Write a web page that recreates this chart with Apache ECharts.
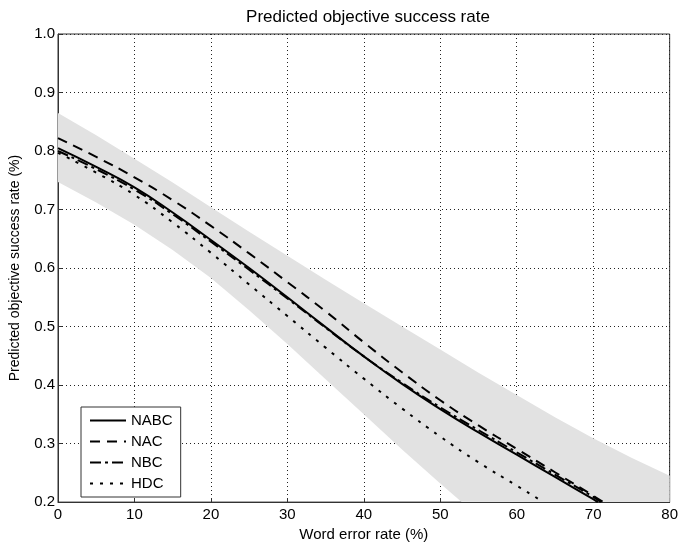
<!DOCTYPE html>
<html>
<head>
<meta charset="utf-8">
<script src="https://cdn.jsdelivr.net/npm/echarts@6/dist/echarts.min.js"></script>
<style>html,body{margin:0;padding:0;background:#fff}#c{width:681px;height:547px}</style>
</head>
<body>
<div id="c"></div>
<script>
const seriesNames = ['NABC', 'NAC', 'NBC', 'HDC'];
const nabcX = [0, 5, 10, 15, 20, 25, 30, 35, 40, 45, 50, 55, 60, 65, 70, 70.6];
const nabcY = [0.805, 0.773, 0.738, 0.695, 0.648, 0.6, 0.55, 0.499, 0.449, 0.402, 0.359, 0.319, 0.281, 0.243, 0.205, 0.2];
const nacX = [0, 5, 10, 15, 20, 25, 30, 35, 40, 45, 50, 55, 60, 65, 70, 71.3];
const nacY = [0.822, 0.79, 0.755, 0.716, 0.672, 0.625, 0.576, 0.526, 0.473, 0.422, 0.374, 0.331, 0.291, 0.251, 0.211, 0.2];
const nbcX = [0, 5, 10, 15, 20, 25, 30, 35, 40, 45, 50, 55, 60, 65, 70, 71];
const nbcY = [0.80, 0.769, 0.734, 0.692, 0.645, 0.597, 0.548, 0.498, 0.449, 0.404, 0.362, 0.323, 0.285, 0.247, 0.209, 0.2];
const hdcX = [0, 5, 10, 15, 20, 25, 30, 35, 40, 45, 50, 55, 60, 63, 63.4];
const hdcY = [0.797, 0.763, 0.725, 0.678, 0.626, 0.572, 0.518, 0.464, 0.411, 0.36, 0.312, 0.268, 0.228, 0.204, 0.2];
const bandUpperX = [0, 5, 10, 15, 20, 25, 30, 35, 40, 45, 50, 55, 60, 65, 70, 75, 80];
const bandUpper = [0.865, 0.827, 0.787, 0.746, 0.704, 0.662, 0.621, 0.58, 0.54, 0.5, 0.461, 0.421, 0.383, 0.345, 0.309, 0.276, 0.245];
const bandLowerX = [0, 5, 10, 15, 20, 25, 30, 35, 40, 45, 50, 55, 60, 70, 80];
const bandLower = [0.747, 0.712, 0.674, 0.631, 0.583, 0.528, 0.47, 0.41, 0.35, 0.29, 0.232, 0.175, 0.12, 0.02, -0.07];
const xTicks = [0, 10, 20, 30, 40, 50, 60, 70, 80];
const yTicks = [0.2, 0.3, 0.4, 0.5, 0.6, 0.7, 0.8, 0.9, 1.0];

const zip = (xs, ys) => xs.map((x, i) => [x, ys[i]]);
const font = 'Liberation Sans, Arial, sans-serif';

const bandData = zip(bandUpperX, bandUpper).concat(zip(bandLowerX, bandLower).reverse());

const chart = echarts.init(document.getElementById('c'));
const lineCommon = {
  type: 'line', smooth: true, showSymbol: false, symbol: 'none', z: 3, clip: true
};
chart.setOption({
  animation: false,
  backgroundColor: '#fff',
  title: {
    text: 'Predicted objective success rate', left: 363, top: 4, textAlign: 'center',
    textStyle: { fontFamily: font, fontSize: 17, fontWeight: 'normal', color: '#000' }
  },
  grid: { left: 55, right: 10, top: 34, bottom: 36, show: true, borderColor: '#333', borderWidth: 1, backgroundColor: 'transparent' },
  legend: {
    data: seriesNames, orient: 'vertical', left: 81, top: 407,
    backgroundColor: '#fff', borderColor: '#333', borderWidth: 1,
    padding: [6, 8, 6, 8], itemGap: 6, itemWidth: 36, itemHeight: 14,
    itemStyle: { opacity: 0 },
    textStyle: { fontFamily: font, fontSize: 15, color: '#000' }
  },
  xAxis: {
    type: 'value', min: 0, max: 80, interval: 10,
    name: 'Word error rate (%)', nameLocation: 'middle', nameGap: 22,
    nameTextStyle: { fontFamily: font, fontSize: 15, color: '#000' },
    axisLine: { show: true, lineStyle: { color: '#333' } },
    axisTick: { show: true, inside: true, length: 4, lineStyle: { color: '#333' } },
    axisLabel: { fontFamily: font, fontSize: 15, color: '#000', margin: 5 },
    splitLine: { show: true, lineStyle: { type: [1, 3], color: '#222', width: 1 } }
  },
  yAxis: {
    type: 'value', min: 0.2, max: 1.0, interval: 0.1,
    name: 'Predicted objective success rate (%)', nameLocation: 'middle', nameGap: 36,
    nameTextStyle: { fontFamily: font, fontSize: 14, color: '#000' },
    axisLine: { show: true, lineStyle: { color: '#333' } },
    axisTick: { show: true, inside: true, length: 4, lineStyle: { color: '#333' } },
    axisLabel: { fontFamily: font, fontSize: 15, color: '#000', margin: 3, formatter: v => v.toFixed(1) },
    splitLine: { show: true, lineStyle: { type: [1, 3], color: '#222', width: 1 } }
  },
  series: [
    {
      type: 'custom', name: 'band', z: 1, clip: true, silent: true,
      data: bandData,
      renderItem: function (params, api) {
        if (params.dataIndex !== 0) return null;
        const pts = bandData.map(p => api.coord(p));
        return {
          type: 'polygon',
          shape: { points: pts },
          style: { fill: '#e2e2e2', stroke: null }
        };
      }
    },
    Object.assign({}, lineCommon, { name: 'NABC', data: zip(nabcX, nabcY), lineStyle: { color: '#000', width: 2, type: 'solid' }, itemStyle: { color: '#000' } }),
    Object.assign({}, lineCommon, { name: 'NAC', data: zip(nacX, nacY), lineStyle: { color: '#000', width: 2, type: [10, 7] }, itemStyle: { color: '#000' } }),
    Object.assign({}, lineCommon, { name: 'NBC', data: zip(nbcX, nbcY), lineStyle: { color: '#000', width: 2, type: [11, 4, 3, 4] }, itemStyle: { color: '#000' } }),
    Object.assign({}, lineCommon, { name: 'HDC', data: zip(hdcX, hdcY), lineStyle: { color: '#000', width: 2, type: [3, 7] }, itemStyle: { color: '#000' } })
  ]
});
</script>
</body>
</html>
